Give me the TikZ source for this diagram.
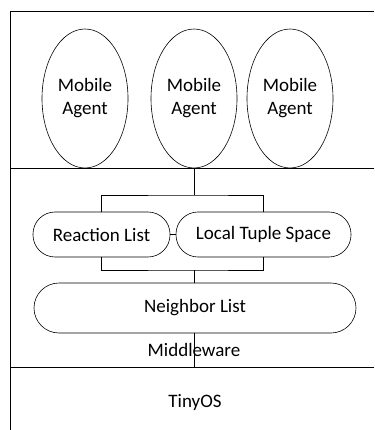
\documentclass[tikz,border=0pt]{standalone}
\usepackage{fontspec}
\setmainfont{Carlito}
\usetikzlibrary{shapes.geometric}

\begin{document}
\begin{tikzpicture}[x=1pt,y=1pt,line width=0.6pt,
	font={\fontsize{19}{23}\selectfont},
	agent/.style={ellipse,draw,minimum width=86pt,minimum height=139pt,inner sep=0pt,align=center},
	pill/.style={rectangle,draw,rounded corners=22pt,minimum height=45pt,inner sep=0pt}]
	\useasboundingbox (0,0) rectangle (374,-430);
	
	% layers
	\draw (374,-11) -- (10,-11) -- (10,-430);
	\draw (10,-168) -- (374,-168);
	\draw (10,-367) -- (374,-367);
	
	\foreach \i/\x in {1/85,2/194,3/290}{
		\node[agent] (ma\i) at (\x,-98.5) {Mobile\\Agent};
	}
	
	\node[pill,minimum width=137pt] (rl) at (101.5,-234.5) {Reaction List};
	\node[pill,minimum width=175pt] (lts) at (263.5,-234.5) {Local Tuple Space};
	\node[pill,minimum width=322pt,minimum height=50pt,rounded corners=25pt] 
	(nl) at (195,-308) {Neighbor List};
	
	\node (mw) at (194,-350) {Middleware};
	\node (os) at (195,-402) {TinyOS};
	
	\coordinate (up) at (194,-195);
	\coordinate (down) at (194,-270);
	\coordinate (base) at (194,-367);
	
	\draw (ma2.south) -- (up);
	\draw (rl.north) |- (up) -| (lts.north);
	\draw (rl.east) -- (lts.west);
	\draw (rl.south) |- (down) -| (lts.south);
	\draw (down) -- (down |- nl.north);
	\draw (down |- nl.south) -- (base);
\end{tikzpicture}
\end{document}
